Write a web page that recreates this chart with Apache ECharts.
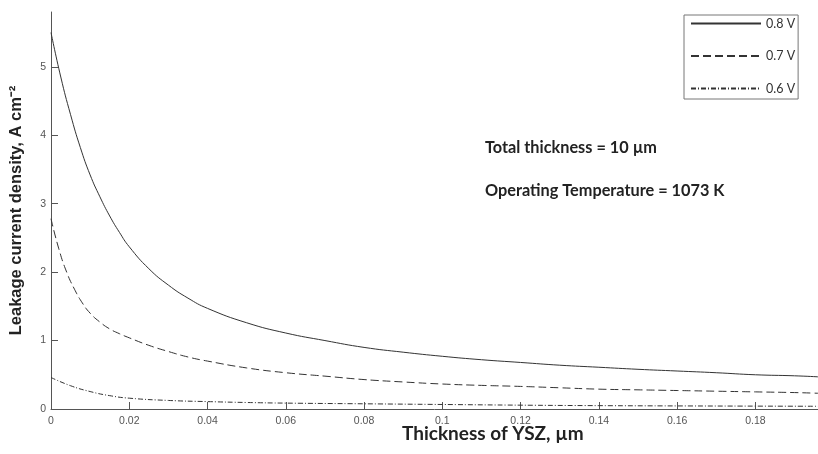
<!DOCTYPE html>
<html>
<head>
<meta charset="utf-8">
<script src="https://cdn.jsdelivr.net/npm/echarts@6/dist/echarts.min.js"></script>
<style>html,body{margin:0;padding:0;background:#fff}#c{width:818px;height:454px}</style>
</head>
<body>
<div id="c"></div>
<script>
// Data
const seriesNames = ['0.8 V', '0.7 V', '0.6 V'];

const x08 = [0, 0.0025, 0.005, 0.0075, 0.01, 0.0125, 0.015, 0.0175, 0.02, 0.025, 0.03, 0.035, 0.04, 0.05, 0.06, 0.07, 0.08, 0.09, 0.10, 0.11, 0.12, 0.13, 0.14, 0.15, 0.16, 0.17, 0.18, 0.19, 0.196];
const y08 = [5.5, 4.85, 4.3, 3.82, 3.42, 3.1, 2.82, 2.58, 2.37, 2.05, 1.81, 1.62, 1.47, 1.26, 1.11, 1.0, 0.90, 0.83, 0.77, 0.72, 0.68, 0.64, 0.61, 0.58, 0.555, 0.53, 0.50, 0.485, 0.47];

const x07 = [0, 0.002, 0.004, 0.006, 0.008, 0.01, 0.0125, 0.015, 0.0175, 0.02, 0.025, 0.03, 0.035, 0.04, 0.05, 0.06, 0.07, 0.08, 0.09, 0.10, 0.11, 0.12, 0.13, 0.14, 0.15, 0.16, 0.17, 0.18, 0.19, 0.196];
const y07 = [2.78, 2.34, 2.0, 1.75, 1.55, 1.4, 1.27, 1.17, 1.1, 1.04, 0.93, 0.84, 0.76, 0.70, 0.60, 0.53, 0.48, 0.43, 0.395, 0.365, 0.345, 0.33, 0.31, 0.29, 0.28, 0.27, 0.26, 0.25, 0.24, 0.23];

const x06 = [0, 0.005, 0.01, 0.015, 0.02, 0.03, 0.04, 0.05, 0.06, 0.08, 0.10, 0.12, 0.14, 0.16, 0.18, 0.196];
const y06 = [0.46, 0.34, 0.255, 0.195, 0.158, 0.125, 0.108, 0.095, 0.086, 0.076, 0.066, 0.056, 0.049, 0.045, 0.042, 0.04];

const xTicks = [0, 0.02, 0.04, 0.06, 0.08, 0.1, 0.12, 0.14, 0.16, 0.18];
const yTicks = [0, 1, 2, 3, 4, 5];

const xTitle = 'Thickness of YSZ, µm';
const yTitle = 'Leakage current density, A cm⁻²';
const note1 = 'Total thickness = 10 µm';
const note2 = 'Operating Temperature = 1073 K';

const pairs = (xs, ys) => xs.map((x, i) => [x, ys[i]]);

const chart = echarts.init(document.getElementById('c'), null, {renderer: 'canvas'});
const lineColor = '#333';
const axisLine = {show: true, onZero: false, lineStyle: {color: '#555', width: 1}};
const tickStyle = {color: '#555'};
const labelFont = {color: '#555', fontFamily: 'Liberation Sans', fontSize: 10.5};
chart.setOption({
  animation: false,
  backgroundColor: '#fff',
  grid: {left: 44, right: 0, top: 12, bottom: 45, containLabel: false},
  xAxis: {
    type: 'value', min: 0, max: 0.196,
    axisLine: axisLine, splitLine: {show: false},
    axisTick: {show: true, inside: true, length: 7, customValues: xTicks, lineStyle: tickStyle},
    axisLabel: Object.assign({customValues: xTicks, margin: 7,
      formatter: v => String(+v.toFixed(2))}, labelFont),
  },
  yAxis: {
    type: 'value', min: 0, max: 5.8,
    name: yTitle, nameLocation: 'middle', nameGap: 26,
    nameTextStyle: {fontFamily: 'Liberation Sans', fontWeight: 'bold', fontSize: 16.5, color: '#222'},
    axisLine: axisLine, splitLine: {show: false},
    axisTick: {show: true, inside: true, length: 7, customValues: yTicks, lineStyle: tickStyle},
    axisLabel: Object.assign({customValues: yTicks, margin: 5}, labelFont),
  },
  legend: {
    left: 684, top: 15, orient: 'vertical',
    itemWidth: 70, itemHeight: 14, itemGap: 19.5,
    padding: [2, 3, 4, 6],
    borderColor: '#777', borderWidth: 1,
    itemStyle: {opacity: 0},
    textStyle: {fontFamily: 'Lato', fontSize: 12.5, color: '#333'},
    data: seriesNames,
  },
  series: [
    {name: seriesNames[0], type: 'line', data: pairs(x08, y08), smooth: 0.5, symbol: 'none',
      lineStyle: {color: lineColor, width: 1, type: 'solid'}, itemStyle: {color: lineColor}},
    {name: seriesNames[1], type: 'line', data: pairs(x07, y07), smooth: 0.5, symbol: 'none',
      lineStyle: {color: lineColor, width: 1, type: [8, 4]}, itemStyle: {color: lineColor}},
    {name: seriesNames[2], type: 'line', data: pairs(x06, y06), smooth: 0.5, symbol: 'none',
      lineStyle: {color: lineColor, width: 1, type: [5, 2, 1, 2]}, itemStyle: {color: lineColor}},
  ],
  graphic: [
    {type: 'text', left: 402, top: 424, style: {text: xTitle, fontFamily: 'Lato', fontWeight: 'bold', fontSize: 19, fill: '#222'}},
    {type: 'text', left: 485, top: 140, style: {text: note1, fontFamily: 'Lato', fontWeight: 'bold', fontSize: 16.3, fill: '#222'}},
    {type: 'text', left: 485, top: 183, style: {text: note2, fontFamily: 'Lato', fontWeight: 'bold', fontSize: 16.3, fill: '#222'}},
  ],
});
</script>
</body>
</html>
